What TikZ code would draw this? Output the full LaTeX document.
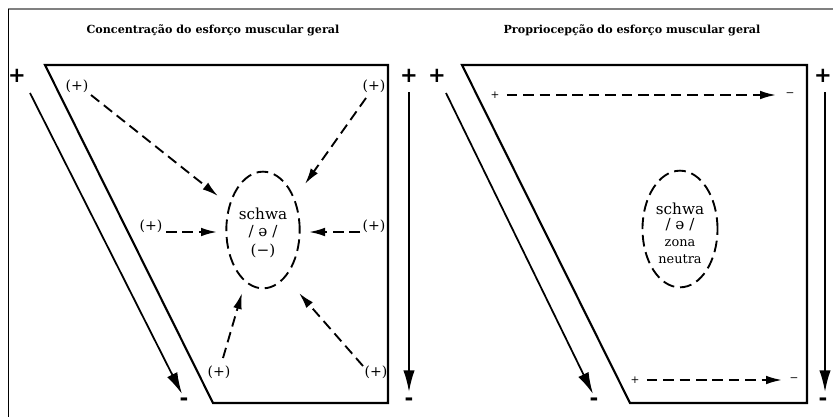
\documentclass[tikz,border=0pt]{standalone}
\usepackage{fontspec}
\setmainfont{DejaVu Serif}
\setsansfont{DejaVu Sans}
\usetikzlibrary{arrows.meta,shapes.geometric}
\begin{document}
\begin{tikzpicture}[x=0.03cm,y=-0.03cm,
  frame/.style={line width=1.8pt,line join=miter},
  bigarrow/.style={line width=1.5pt,-{Latex[length=6.5mm,width=3.4mm]}},
  dasharrow/.style={line width=1.6pt,dash pattern=on 9pt off 5pt,-{Latex[length=4.8mm,width=2.6mm]}},
  zone/.style={draw,ellipse,line width=1.6pt,dash pattern=on 10pt off 5pt,minimum width=2.2cm,minimum height=3.5cm,inner sep=0pt},
  sign/.style={font=\sffamily\bfseries\fontsize{18}{18}\selectfont,inner sep=0pt},
  lbl/.style={font=\fontsize{12}{12}\selectfont,inner sep=1pt},
  small/.style={font=\fontsize{9}{9}\selectfont,inner sep=1pt},
  title/.style={font=\bfseries\fontsize{9.5}{10}\selectfont}]
\useasboundingbox (0,0) rectangle (833,417);
% page frame
\draw[gray,line width=1.8pt] (8,9) -- (833,9);
\draw[line width=0.8pt] (8,9) -- (8,417);

% left panel
\node[title] (titleL) at (213,30) {Concentração do esforço muscular geral};
\draw[frame] (45,65) -- (388,65) -- (388,403) -- (213,403) -- cycle;
\node[sign] (plusL1) at (17,76) {+};
\node[sign] (minusL1) at (184,402) {-};
\coordinate (sL1) at (30,93);
\coordinate (eL1) at (182,394);
\draw[bigarrow] (sL1) -- (eL1);
\node[sign] (plusL2) at (409,76) {+};
\node[sign] (minusL2) at (409,402) {-};
\coordinate (sL2) at (409,92);
\coordinate (eL2) at (409,392);
\draw[bigarrow] (sL2) -- (eL2);

\node[zone] (schwaL) at (263,230) {};
\node[lbl,font=\fontsize{13}{13}\selectfont] (schwaL1) at (263,214) {schwa};
\node[lbl,font=\fontsize{13}{13}\selectfont] (schwaL2) at (263,232) {/ ə /};
\node[lbl,font=\fontsize{13}{13}\selectfont] (schwaL3) at (263,251) {(−)};

\node[lbl] (p1) at (77,86) {(+)};
\node[lbl] (p2) at (374,86) {(+)};
\node[lbl] (p3) at (151,226) {(+)};
\node[lbl] (p4) at (374,226) {(+)};
\node[lbl] (p5) at (219,372) {(+)};
\node[lbl] (p6) at (376,372) {(+)};
\coordinate (q1) at (218,196);
\coordinate (q2) at (305,184);
\coordinate (q3) at (217,232);
\coordinate (q4) at (309,232);
\coordinate (q5) at (242,293);
\coordinate (q6) at (299,293);
\draw[dasharrow] (91,95) -- (q1);
\draw[dasharrow] (366,98) -- (q2);
\draw[dasharrow] (166,232) -- (q3);
\draw[dasharrow] (360,232) -- (q4);
\draw[dasharrow] (223,358) -- (q5);
\draw[dasharrow] (363,366) -- (q6);

% right panel
\node[title] (titleR) at (632,30) {Propriocepção do esforço muscular geral};
\draw[frame] (462,65) -- (807,65) -- (807,403) -- (630,403) -- cycle;
\node[sign] (plusR1) at (437,76) {+};
\node[sign] (minusR1) at (594,402) {-};
\coordinate (sR1) at (446,93);
\coordinate (eR1) at (593,394);
\draw[bigarrow] (sR1) -- (eR1);
\node[sign] (plusR2) at (823,76) {+};
\node[sign] (minusR2) at (823,402) {-};
\coordinate (sR2) at (825,92);
\coordinate (eR2) at (825,392);
\draw[bigarrow] (sR2) -- (eR2);

\node[zone,minimum width=2.25cm] (schwaR) at (680,229) {};
\node[lbl,font=\fontsize{13}{13}\selectfont] (schwaR1) at (680,209) {schwa};
\node[lbl,font=\fontsize{13}{13}\selectfont] (schwaR2) at (680,225) {/ ə /};
\node[lbl,font=\fontsize{11}{11}\selectfont] (zonaR) at (680,243) {zona};
\node[lbl,font=\fontsize{11}{11}\selectfont] (neutraR) at (680,259) {neutra};

\node[small] (topplus) at (495,95) {+};
\node[small] (topminus) at (790,95) {−};
\node[small] (botplus) at (635,380) {+};
\node[small] (botminus) at (794,380) {−};
\draw[dasharrow] (topplus.east) ++(6,0) coordinate (ta) -- (topminus.west -| 776,0) coordinate (tb);
\draw[dasharrow] (botplus.east) ++(6,0) coordinate (ba) -- (botminus.west -| 782,0) coordinate (bb);
\end{tikzpicture}
\end{document}
